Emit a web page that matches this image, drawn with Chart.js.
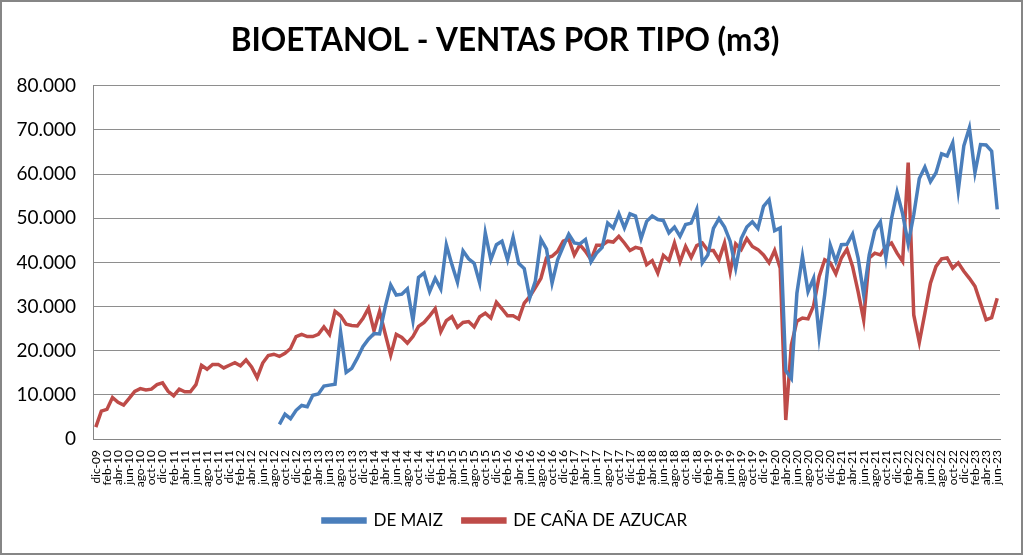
<!DOCTYPE html>
<html>
<head>
<meta charset="utf-8">
<title>Bioetanol - ventas por tipo</title>
<script src="https://cdn.jsdelivr.net/npm/chart.js@4.4.0/dist/chart.umd.min.js"></script>
<style>
    html, body { margin: 0; padding: 0; background: #fff; }
    #wrap { width: 1023px; height: 555px; }
</style>
</head>
<body>
<div id="wrap"><canvas id="ventasChart" width="1023" height="555"></canvas></div>
<script>
// meses dic-09 .. jun-23
var meses = [
    'dic-09',
    'ene-10', 'feb-10', 'mar-10', 'abr-10', 'may-10', 'jun-10', 'jul-10', 'ago-10', 'sep-10', 'oct-10', 'nov-10', 'dic-10',
    'ene-11', 'feb-11', 'mar-11', 'abr-11', 'may-11', 'jun-11', 'jul-11', 'ago-11', 'sep-11', 'oct-11', 'nov-11', 'dic-11',
    'ene-12', 'feb-12', 'mar-12', 'abr-12', 'may-12', 'jun-12', 'jul-12', 'ago-12', 'sep-12', 'oct-12', 'nov-12', 'dic-12',
    'ene-13', 'feb-13', 'mar-13', 'abr-13', 'may-13', 'jun-13', 'jul-13', 'ago-13', 'sep-13', 'oct-13', 'nov-13', 'dic-13',
    'ene-14', 'feb-14', 'mar-14', 'abr-14', 'may-14', 'jun-14', 'jul-14', 'ago-14', 'sep-14', 'oct-14', 'nov-14', 'dic-14',
    'ene-15', 'feb-15', 'mar-15', 'abr-15', 'may-15', 'jun-15', 'jul-15', 'ago-15', 'sep-15', 'oct-15', 'nov-15', 'dic-15',
    'ene-16', 'feb-16', 'mar-16', 'abr-16', 'may-16', 'jun-16', 'jul-16', 'ago-16', 'sep-16', 'oct-16', 'nov-16', 'dic-16',
    'ene-17', 'feb-17', 'mar-17', 'abr-17', 'may-17', 'jun-17', 'jul-17', 'ago-17', 'sep-17', 'oct-17', 'nov-17', 'dic-17',
    'ene-18', 'feb-18', 'mar-18', 'abr-18', 'may-18', 'jun-18', 'jul-18', 'ago-18', 'sep-18', 'oct-18', 'nov-18', 'dic-18',
    'ene-19', 'feb-19', 'mar-19', 'abr-19', 'may-19', 'jun-19', 'jul-19', 'ago-19', 'sep-19', 'oct-19', 'nov-19', 'dic-19',
    'ene-20', 'feb-20', 'mar-20', 'abr-20', 'may-20', 'jun-20', 'jul-20', 'ago-20', 'sep-20', 'oct-20', 'nov-20', 'dic-20',
    'ene-21', 'feb-21', 'mar-21', 'abr-21', 'may-21', 'jun-21', 'jul-21', 'ago-21', 'sep-21', 'oct-21', 'nov-21', 'dic-21',
    'ene-22', 'feb-22', 'mar-22', 'abr-22', 'may-22', 'jun-22', 'jul-22', 'ago-22', 'sep-22', 'oct-22', 'nov-22', 'dic-22',
    'ene-23', 'feb-23', 'mar-23', 'abr-23', 'may-23', 'jun-23'
];

// m3 por mes, maiz empieza en sep-12
var deMaiz = [
    null,
    null, null, null, null, null, null, null, null, null, null, null, null,
    null, null, null, null, null, null, null, null, null, null, null, null,
    null, null, null, null, null, null, null, null, 3300, 5600, 4600, 6500,
    7600, 7300, 9900, 10200, 12000, 12200, 12400, 24200, 15100, 16000, 18300, 20900,
    22600, 23900, 23800, 29800, 34900, 32600, 32800, 34000, 26800, 36600, 37600, 33400,
    36400, 34000, 44000, 39500, 35500, 42600, 40800, 39800, 35300, 46700, 40600, 44000,
    44800, 40600, 45700, 39800, 38600, 32000, 35800, 45200, 43000, 35300, 40600, 43600,
    46400, 44400, 44200, 45200, 40100, 42100, 43400, 48900, 47800, 51000, 47800, 51000,
    50500, 45400, 49300, 50500, 49700, 49500, 46700, 48000, 45900, 48600, 48900, 52000,
    39900, 41700, 47700, 49900, 48000, 44800, 38700, 45400, 48000, 49200, 47700, 52700,
    54200, 47200, 47800, 15500, 13700, 33000, 41400, 33400, 36400, 23200, 32700, 43900,
    40200, 44000, 44100, 46400, 41000, 32700, 41700, 47200, 49200, 41000, 49900, 55900,
    51000, 44200, 50800, 59000, 61600, 58300, 60300, 64600, 64100, 67100, 56300, 66400,
    70500, 60300, 66700, 66600, 65200, 52000
];

var deCana = [
    2700,
    6300, 6700, 9400, 8300, 7700, 9200, 10800, 11400, 11100, 11300, 12300, 12700,
    10800, 9800, 11300, 10700, 10700, 12300, 16700, 15800, 16900, 16900, 16100, 16700,
    17300, 16600, 17900, 16300, 13900, 17200, 18900, 19200, 18700, 19400, 20500, 23200,
    23700, 23200, 23200, 23700, 25400, 23700, 28900, 27900, 26000, 25700, 25600, 27300,
    29600, 24500, 28900, 23900, 19000, 23700, 23000, 21700, 23200, 25500, 26400, 27900,
    29500, 24300, 26800, 27700, 25300, 26400, 26600, 25400, 27700, 28500, 27400, 31000,
    29500, 27900, 27900, 27200, 30800, 32300, 34300, 36400, 41000, 41400, 42500, 44800,
    45300, 41700, 44000, 42500, 40600, 43900, 43900, 44800, 44600, 45900, 44400, 42700,
    43400, 43100, 39500, 40400, 37600, 41600, 40400, 44400, 40100, 43600, 41100, 43800,
    44400, 42700, 42700, 40600, 44400, 37800, 44200, 42900, 45400, 43600, 42900, 41700,
    39900, 42700, 38700, 4300, 21300, 26700, 27400, 27200, 30200, 36800, 40600, 39900,
    37400, 41000, 43000, 39100, 33400, 27000, 41000, 42100, 41700, 43600, 44400, 42100,
    40200, 62600, 28100, 21900, 28500, 35300, 39100, 40800, 41000, 38700, 39900, 38000,
    36400, 34600, 30800, 27000, 27500, 31900
];

var yTicks = [0, 10000, 20000, 30000, 40000, 50000, 60000, 70000, 80000];

function miles(v) {
    return String(v).replace(/\B(?=(\d{3})+(?!\d))/g, '.');
}

// fondo blanco y marco gris del area del grafico
var marco = {
    id: 'marco',
    beforeDraw: function (chart) {
        var c = chart.ctx;
        c.save();
        c.fillStyle = '#ffffff';
        c.fillRect(0, 0, chart.width, chart.height);
        c.restore();
    },
    afterDraw: function (chart) {
        var c = chart.ctx;
        c.save();
        c.strokeStyle = '#868686';
        c.lineWidth = 2;
        c.strokeRect(1, 1, chart.width - 2, chart.height - 2);
        c.restore();
    }
};

var ctx = document.getElementById('ventasChart').getContext('2d');

window.ventasChart = new Chart(ctx, {
    type: 'line',
    data: {
        labels: meses,
        datasets: [{
            label: 'DE MAIZ',
            data: deMaiz,
            borderColor: '#4A7EBB',
            backgroundColor: '#4A7EBB',
            borderWidth: 3.5,
            pointRadius: 0,
            tension: 0
        }, {
            label: 'DE CAÑA DE AZUCAR',
            data: deCana,
            borderColor: '#BE4B48',
            backgroundColor: '#BE4B48',
            borderWidth: 3.5,
            pointRadius: 0,
            tension: 0
        }]
    },
    options: {
        responsive: false,
        animation: false,
        layout: {
            padding: { left: 10, right: 23, top: 10, bottom: 16 }
        },
        plugins: {
            title: {
                display: true,
                text: 'BIOETANOL - VENTAS POR TIPO (m3)',
                color: '#000',
                font: { family: 'Lato', size: 31.5, weight: 'bold' },
                padding: { top: 12, bottom: 26 }
            },
            legend: {
                position: 'bottom',
                labels: {
                    boxWidth: 42,
                    boxHeight: 3,
                    color: '#000',
                    padding: 20,
                    font: { family: 'Lato', size: 17 }
                }
            },
            tooltip: { enabled: false }
        },
        scales: {
            x: {
                offset: true,
                grid: { display: false },
                border: { color: '#868686', width: 1 },
                ticks: {
                    autoSkip: false,
                    minRotation: 90,
                    maxRotation: 90,
                    padding: 3,
                    color: '#000',
                    font: { family: 'Lato', size: 12 },
                    callback: function (val, i) {
                        return i % 2 === 0 ? meses[i] : '';
                    }
                },
                afterFit: function (scale) {
                    scale.height = 53;
                }
            },
            y: {
                min: 0,
                max: 80000,
                afterBuildTicks: function (scale) {
                    scale.ticks = yTicks.map(function (v) { return { value: v }; });
                },
                grid: { color: '#8E8E8E', lineWidth: 1, drawTicks: false },
                border: { color: '#868686', width: 1 },
                ticks: {
                    padding: 17,
                    color: '#000',
                    font: { family: 'Lato', size: 19 },
                    callback: function (v) {
                        return miles(v);
                    }
                },
                afterFit: function (scale) {
                    scale.width = 83;
                }
            }
        }
    },
    plugins: [marco]
});
</script>
</body>
</html>
